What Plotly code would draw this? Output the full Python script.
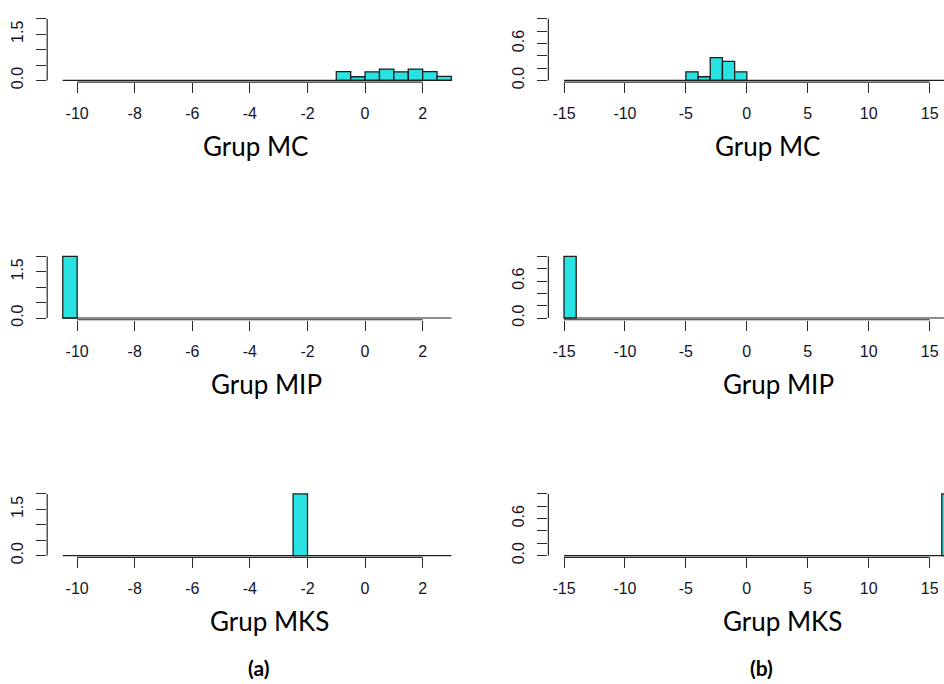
import plotly.graph_objects as go

W, H = 944, 684

# ---------------- data ----------------
titles = ["Grup MC", "Grup MIP", "Grup MKS"]
panel_tags = ["(a)", "(b)"]

# column (a)
a_hist_range = [-10.5, 3.0]
a_binwidth = 0.5
a_xticks = [-10, -8, -6, -4, -2, 0, 2]
a_yticks = [0.0, 0.5, 1.0, 1.5, 2.0]
a_ylabels = ["0.0", "", "", "1.5", ""]
mc_a_left = [-1.0, -0.5, 0.0, 0.5, 1.0, 1.5, 2.0, 2.5]
mc_a_dens = [0.29, 0.12, 0.28, 0.37, 0.28, 0.37, 0.29, 0.13]
mip_a_left = [-10.5]
mip_a_dens = [2.0]
mks_a_left = [-2.5]
mks_a_dens = [2.0]

# column (b)
b_hist_range = [-15.0, 17.0]
b_binwidth = 1.0
b_xticks = [-15, -10, -5, 0, 5, 10, 15]
b_yticks = [0.0, 0.2, 0.4, 0.6, 0.8, 1.0]
b_ylabels = ["0.0", "", "", "0.6", "", ""]
mc_b_left = [-5, -4, -3, -2, -1]
mc_b_dens = [0.14, 0.06, 0.37, 0.31, 0.14]
mip_b_left = [-15]
mip_b_dens = [1.0]
mks_b_left = [16]
mks_b_dens = [1.0]

# ---------------- styling ----------------
FILL = "#29E2E2"
EDGE = "#1e1e1e"
AXC = "#2a2a2a"
TICKFONT = dict(family="Liberation Sans, Arial, sans-serif", size=16, color="#141428")
TITLEFONT = dict(family="Lato, Calibri, sans-serif", size=26, color="#000000")

cols = [
    dict(hist_range=a_hist_range, bw=a_binwidth, xticks=a_xticks, yticks=a_yticks,
         ylabels=a_ylabels, px0=47.2, px1_full=467.0,
         data=[(mc_a_left, mc_a_dens), (mip_a_left, mip_a_dens), (mks_a_left, mks_a_dens)],
         title_cx=[255, 266, 269], tag_cx=258),
    dict(hist_range=b_hist_range, bw=b_binwidth, xticks=b_xticks, yticks=b_yticks,
         ylabels=b_ylabels, px0=548.4, px1_full=969.6,
         data=[(mc_b_left, mc_b_dens), (mip_b_left, mip_b_dens), (mks_b_left, mks_b_dens)],
         title_cx=[767.5, 778.5, 782], tag_cx=761),
]

PAD = 0.028  # fraction of y max below zero (gap between bars' baseline and x axis)
row_base = [81.3, 321.3, 561.3]   # pixel of y = 0
row_ytop = [19.0, 259.0, 499.0]   # pixel of y = ymax
title_cy = [148, 387.5, 627]

fig = go.Figure()
layout = dict(width=W, height=H, margin=dict(l=0, r=0, t=0, b=0),
              paper_bgcolor="white", plot_bgcolor="white", showlegend=False)
shapes = []
annotations = []

idx = 0
for c, col in enumerate(cols):
    lo, hi = col["hist_range"]
    span = hi - lo
    xlo, xhi = lo - 0.04 * span, hi + 0.04 * span
    px0, px1 = col["px0"], col["px1_full"]
    px1c = min(px1, W)
    xhi_c = xlo + (px1c - px0) / (px1 - px0) * (xhi - xlo)
    ymax = col["yticks"][-1]
    for r in range(3):
        idx += 1
        xs = "" if idx == 1 else str(idx)
        xname, yname = "x" + xs, "y" + xs
        left, dens = col["data"][r]
        bw = col["bw"]
        centers = [l + bw / 2 for l in left]
        ppu = (row_base[r] - row_ytop[r]) / ymax
        ylo = -PAD * ymax
        yhi = 1.04 * ymax
        pbot = row_base[r] + PAD * ymax * ppu
        ptop = row_base[r] - yhi * ppu
        fig.add_trace(go.Scatter(x=[lo, hi], y=[0, 0], mode="lines",
                                 line=dict(color=EDGE, width=1.2),
                                 xaxis=xname, yaxis=yname, hoverinfo="skip"))
        fig.add_trace(go.Bar(x=centers, y=dens, width=[bw] * len(left),
                             marker=dict(color=FILL, line=dict(color=EDGE, width=1.3)),
                             xaxis=xname, yaxis=yname))
        layout["xaxis" + xs] = dict(
            domain=[px0 / W, px1c / W], range=[xlo, xhi_c], anchor=yname,
            tickmode="array", tickvals=col["xticks"],
            ticktext=[str(t) for t in col["xticks"]],
            ticks="outside", ticklen=10, tickwidth=1.2, tickcolor=AXC,
            showline=False, showgrid=False, zeroline=False,
            tickfont=TICKFONT, ticklabelstandoff=7, fixedrange=True)
        layout["yaxis" + xs] = dict(
            domain=[1 - pbot / H, 1 - ptop / H],
            range=[ylo, yhi], anchor=xname,
            tickmode="array", tickvals=col["yticks"], ticktext=col["ylabels"],
            tickangle=-90,
            ticks="outside", ticklen=10, tickwidth=1.2, tickcolor=AXC,
            showline=False, showgrid=False, zeroline=False,
            tickfont=TICKFONT, ticklabelstandoff=7, fixedrange=True)
        shapes.append(dict(type="line", xref=xname, yref=yname + " domain",
                           x0=col["xticks"][0], x1=col["xticks"][-1], y0=0, y1=0,
                           line=dict(color=AXC, width=1.2)))
        shapes.append(dict(type="line", xref=xname + " domain", yref=yname,
                           x0=0, x1=0, y0=col["yticks"][0], y1=col["yticks"][-1],
                           line=dict(color=AXC, width=1.2)))
        annotations.append(dict(text=titles[r], x=col["title_cx"][r] / W,
                                y=1 - title_cy[r] / H, xref="paper", yref="paper",
                                xanchor="center", yanchor="middle", showarrow=False,
                                font=TITLEFONT))
    annotations.append(dict(text="<b>" + panel_tags[c] + "</b>", x=col["tag_cx"] / W,
                            y=1 - 674 / H, xref="paper", yref="paper",
                            xanchor="center", yanchor="middle", showarrow=False,
                            font=dict(family="Lato, Calibri, sans-serif", size=21,
                                      color="#000000")))

layout["shapes"] = shapes
layout["annotations"] = annotations
fig.update_layout(**layout)
fig.write_html("out.html", config={"displayModeBar": False},
               post_script="document.body.style.margin='0';document.body.style.overflow='hidden';")
